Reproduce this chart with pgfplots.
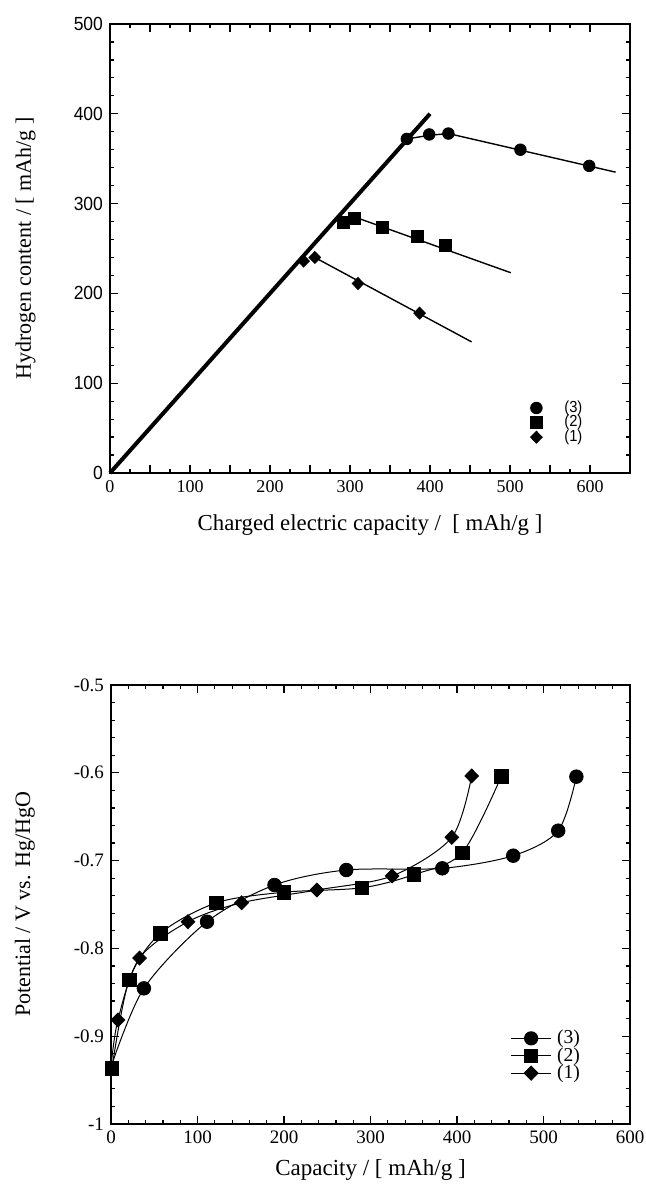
\documentclass[border=0pt]{standalone}
\usepackage{fontspec}
\setmainfont{Liberation Serif}
\newfontfamily\condfont[FakeStretch=0.92]{Liberation Sans}
\usepackage{pgfplots}
\pgfplotsset{compat=1.18}

\begin{document}
\begin{tikzpicture}
\path[use as bounding box] (0,0) rectangle (323pt,-598.5pt);
\pgfplotsset{
  common/.style={
    scale only axis,
    axis line style={line width=1.1pt},
    tick style={black, line width=0.6pt},
    major tick length=4pt, minor tick length=2pt,
    tick align=inside,
    /pgf/number format/assume math mode=true,
    ticklabel style={font=\fontsize{9.5}{10}\selectfont},
    label style={font=\fontsize{11}{13}\selectfont},
    clip=false,
  }
}
% ---------------- top chart ----------------
\begin{axis}[common, at={(55pt,-12pt)}, anchor=north west, width=260pt, height=224.5pt,
  xmin=0, xmax=650, ymin=0, ymax=500,
  xtick={0,100,...,600}, minor x tick num=3,
  extra x ticks={50,150,...,550}, extra x tick labels={},
  ytick={0,100,...,500}, minor y tick num=4,
  xticklabel style={font=\fontsize{9}{10}\selectfont},
  yticklabel style={font=\condfont\fontsize{9.5}{10}\selectfont},
  xlabel={Charged electric capacity /\ \ [ mAh/g ]},
  ylabel={Hydrogen content / [ mAh/g ]},
  xlabel style={at={(axis description cs:0.5,-0.116)}, anchor=center, font=\fontsize{11.4}{13}\selectfont},
  ylabel style={at={(axis description cs:-0.1625,0.5)}, anchor=center},
  legend style={draw=none, fill=none, at={(axis cs:523,80.5)}, anchor=north west,
    inner sep=0pt, outer sep=0pt, row sep=0pt, nodes={inner sep=0pt},
    font=\condfont\fontsize{8}{8}\selectfont},
  legend cell align=left,
  legend image code/.code={\path[draw=none] (-4pt,0pt) -- (14pt,0pt); \draw[#1] plot coordinates {(0pt,0pt)};},
]
\addlegendimage{black, mark=*, mark size=2.9pt}
\addlegendentry{(3)}
\addlegendimage{black, mark=square*, mark size=3pt}
\addlegendentry{(2)}
\addlegendimage{black, mark=diamond*, mark size=3pt, mark options={xscale=1.3}}
\addlegendentry{(1)}
% thick line
\addplot[black, line width=2pt, forget plot] coordinates {(0,0) (400,400)};
% fitted lines
\addplot[black, line width=0.7pt, forget plot] coordinates {(371,372) (399,376) (423,378) (632,335)};
\addplot[black, line width=0.7pt, forget plot] coordinates {(306,285) (501,223)};
\addplot[black, line width=0.7pt, forget plot] coordinates {(256,240) (452,146)};
% markers
\addplot[black, only marks, mark=*, mark size=2.9pt, forget plot] coordinates {
(371,372) (399,377) (423,378) (513,360) (599,342)};
\addplot[black, only marks, mark=square*, mark size=3pt, forget plot] coordinates {
(292,279) (306,284) (341,274) (384,264) (419,253)};
\addplot[black, only marks, mark=diamond*, mark size=3pt, mark options={xscale=1.3}, forget plot] coordinates {
(242,236) (256,240) (310,211) (387,178)};
\end{axis}
% ---------------- bottom chart ----------------
\begin{axis}[common, at={(55.5pt,-342.5pt)}, anchor=north west, width=259.5pt, height=219.5pt,
  xmin=0, xmax=600, ymin=-1, ymax=-0.5,
  xtick={0,100,...,600}, minor x tick num=4,
  ytick={-1,-0.9,-0.8,-0.7,-0.6,-0.5}, minor y tick num=4,
  xlabel={Capacity / [ mAh/g ]},
  ylabel={Potential / V vs. Hg/HgO},
  xlabel style={at={(axis description cs:0.5,-0.105)}, anchor=center, font=\fontsize{11.5}{13}\selectfont},
  ylabel style={at={(axis description cs:-0.166,0.5)}, anchor=center},
  legend style={draw=none, fill=none, at={(axis cs:462,-0.893)}, anchor=north west,
    inner sep=0pt, outer sep=0pt, row sep=0.4pt, nodes={inner sep=0pt},
    font=\fontsize{9.8}{10}\selectfont},
  legend cell align=left,
  legend image code/.code={\path[draw=none] (0pt,0pt) -- (23pt,0pt); \draw[mark repeat=2, mark phase=2, #1] plot coordinates {(0pt,0pt) (10pt,0pt) (20pt,0pt)};},
]
\addlegendimage{black, line width=0.5pt, mark=*, mark size=3.3pt}
\addlegendentry{(3)}
\addlegendimage{black, line width=0.5pt, mark=square*, mark size=3.3pt}
\addlegendentry{(2)}
\addlegendimage{black, line width=0.5pt, mark=diamond*, mark size=3.5pt, mark options={xscale=1.3}}
\addlegendentry{(1)}
% curves
\addplot[black, line width=0.5pt, smooth, forget plot] coordinates {
(0,-0.935) (38,-0.8455) (111,-0.7696) (189,-0.7278) (272,-0.7107) (383,-0.7088) (465,-0.6944) (517,-0.6659) (538,-0.6044)};
\addplot[black, line width=0.5pt, smooth, forget plot] coordinates {
(1,-0.9366) (21,-0.836) (57,-0.783) (122,-0.748) (200,-0.736) (290,-0.731) (350,-0.716) (406,-0.691) (451,-0.6044)};
\addplot[black, line width=0.5pt, smooth, forget plot] coordinates {
(0,-0.935) (8,-0.8815) (33,-0.811) (89,-0.7696) (151,-0.748) (238,-0.7335) (325,-0.7175) (394,-0.6735) (417,-0.6036)};
% markers
\addplot[black, only marks, mark=*, mark size=3.4pt, forget plot] coordinates {
(38,-0.8455) (111,-0.7696) (189,-0.7278) (272,-0.7107) (383,-0.7088) (465,-0.6944) (517,-0.6659) (538,-0.6044)};
\addplot[black, only marks, mark=diamond*, mark size=3.5pt, mark options={xscale=1.3}, forget plot] coordinates {
(8,-0.8815) (33,-0.811) (89,-0.7696) (151,-0.748) (238,-0.7335) (325,-0.7175) (394,-0.6735) (417,-0.6036)};
\addplot[black, only marks, mark=square*, mark size=3.4pt, forget plot] coordinates {
(1,-0.9366) (21,-0.836) (57,-0.783) (122,-0.748) (200,-0.736) (290,-0.731) (350,-0.716) (406,-0.691) (451,-0.6044)};
\end{axis}
\end{tikzpicture}
\end{document}
